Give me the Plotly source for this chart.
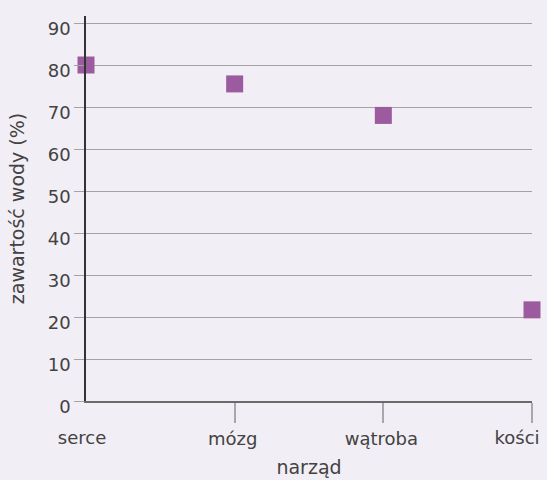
import plotly.graph_objects as go

organs = ["serce", "mózg", "wątroba", "kości"]
water_pct = [80, 75.5, 68, 21.7]
y_ticks = [0, 10, 20, 30, 40, 50, 60, 70, 80, 90]

FONT = "DejaVu Sans"
FS = 18
TXT = "#424242"
BG = "#f2eef5"
TICKC = "#a8a8a8"

fig = go.Figure()
# invisible carriers so the two label-only overlay axes get drawn
for ax in ("x2", "x3"):
    fig.add_trace(go.Scatter(
        x=organs, y=water_pct, xaxis=ax, yaxis="y", mode="markers",
        marker=dict(opacity=0), hoverinfo="skip", showlegend=False,
    ))
fig.add_trace(go.Scatter(
    x=organs, y=water_pct, mode="markers",
    marker=dict(symbol="square", size=17, color="#9c5a9f", line=dict(width=0)),
    cliponaxis=False, showlegend=False,
))

cat_common = dict(
    type="category", categoryorder="array", categoryarray=organs, range=[0, 3],
    showgrid=False, zeroline=False, automargin=False, fixedrange=True,
    tickfont=dict(family=FONT, size=FS, color=TXT),
)

fig.update_layout(
    width=547, height=480,
    margin=dict(l=86, r=15, t=16, b=79),
    paper_bgcolor=BG, plot_bgcolor=BG,
    font=dict(family=FONT, size=FS, color=TXT),
    xaxis=dict(
        **cat_common,
        tickvals=organs[1:], ticktext=organs[1:3] + [""],
        showline=True, linecolor="#6a6a6a", linewidth=2,
        ticks="outside", ticklen=20, tickcolor=TICKC, tickwidth=1.5,
        ticklabelshift=-2,
        title=dict(text="narząd", font=dict(family=FONT, size=19, color=TXT), standoff=13),
    ),
    xaxis2=dict(
        **cat_common, overlaying="x", anchor="y", side="bottom",
        tickvals=organs[:1], ticktext=organs[:1], ticks="", showline=False,
        ticklabelstandoff=24, ticklabelshift=-4,
    ),
    xaxis3=dict(
        **cat_common, overlaying="x", anchor="y", side="bottom",
        tickvals=organs[3:], ticktext=organs[3:], ticks="", showline=False,
        ticklabelstandoff=24, ticklabelshift=-15,
    ),
    yaxis=dict(
        range=[0, 91.67], tickvals=y_ticks, showgrid=True, gridcolor="#a3a3a3", gridwidth=1.3,
        zeroline=False, showline=True, linecolor="#333333", linewidth=1.5, automargin=False,
        ticks="outside", ticklen=10, tickcolor="#a3a3a3", tickwidth=1.3,
        ticklabelshift=6,
        tickfont=dict(family=FONT, size=FS, color=TXT),
        title=dict(text="zawartość wody (%)", font=dict(family=FONT, size=19, color=TXT), standoff=18),
        fixedrange=True,
    ),
)

fig.write_html("out.html")
